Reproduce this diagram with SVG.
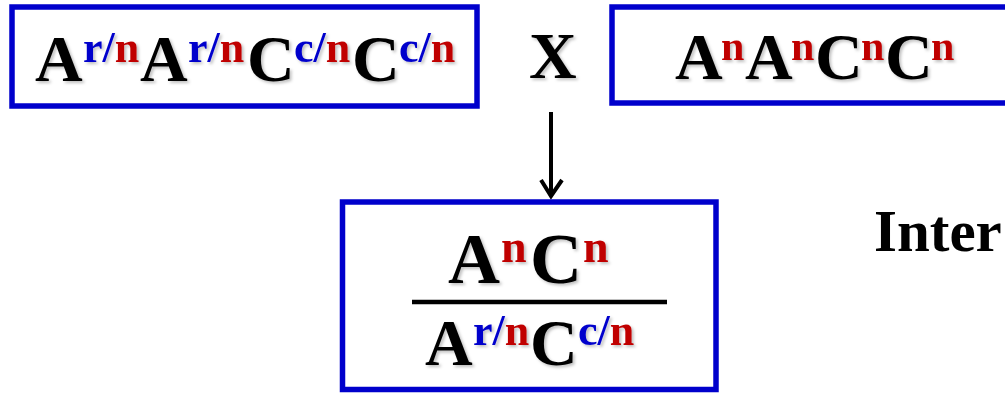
<svg xmlns="http://www.w3.org/2000/svg" width="1005" height="393" viewBox="0 0 1005 393">
  <style>
    .box { fill: #ffffff; stroke: #0000CC; stroke-width: 5.5; }
    .t { font-family: "Liberation Serif", "Times New Roman", serif; font-weight: bold; fill: #000000; }
    .b { fill: #0000CC; }
    .r { fill: #C00000; }
    .conn { stroke: #000000; stroke-width: 4; fill: none; stroke-linecap: butt; }
  </style>
  <defs>
    <filter id="sh" x="-10%" y="-10%" width="130%" height="130%">
      <feDropShadow dx="2" dy="2" stdDeviation="1.5" flood-color="#000" flood-opacity="0.25"/>
    </filter>
  </defs>
  <rect width="1005" height="393" fill="#ffffff"/>

  <g id="node-parent1">
    <rect class="box" x="12" y="7" width="465" height="99"/>
    <text class="t" filter="url(#sh)">
      <tspan x="35" y="81" font-size="66">A</tspan><tspan x="83" y="62" font-size="44" class="b">r/</tspan><tspan class="r" font-size="44">n</tspan><tspan x="140" y="81" font-size="66">A</tspan><tspan x="188" y="62" font-size="44" class="b">r/</tspan><tspan class="r" font-size="44">n</tspan><tspan x="247" y="81" font-size="66">C</tspan><tspan x="294" y="62" font-size="44" class="b">c/</tspan><tspan class="r" font-size="44">n</tspan><tspan x="352" y="81" font-size="66">C</tspan><tspan x="399" y="62" font-size="44" class="b">c/</tspan><tspan class="r" font-size="44">n</tspan>
    </text>
  </g>

  <g id="node-cross">
    <text class="t" x="529" y="78" font-size="66" filter="url(#sh)">X</text>
  </g>

  <g id="node-parent2">
    <rect class="box" x="612" y="7" width="420" height="96"/>
    <text class="t" filter="url(#sh)">
      <tspan x="675" y="79" font-size="66">A</tspan><tspan x="721" y="60" font-size="42" class="r">n</tspan><tspan x="745" y="79" font-size="66">A</tspan><tspan x="791" y="60" font-size="42" class="r">n</tspan><tspan x="815" y="79" font-size="66">C</tspan><tspan x="861" y="60" font-size="42" class="r">n</tspan><tspan x="885" y="79" font-size="66">C</tspan><tspan x="931" y="60" font-size="42" class="r">n</tspan>
    </text>
  </g>

  <g id="connectors">
    <line class="conn" x1="551" y1="112" x2="551" y2="196"/>
    <polyline class="conn" points="541,180 551,196 562,180"/>
  </g>

  <g id="node-result">
    <rect class="box" x="342.5" y="202" width="373.5" height="187.5"/>
    <text class="t" filter="url(#sh)">
      <tspan x="448" y="283" font-size="72">A</tspan><tspan x="501" y="262" font-size="46" class="r">n</tspan><tspan x="530" y="283" font-size="72">C</tspan><tspan x="583" y="262" font-size="46" class="r">n</tspan>
    </text>
    <line x1="412" y1="302" x2="667" y2="302" stroke="#000" stroke-width="4.5"/>
    <text class="t" filter="url(#sh)">
      <tspan x="425" y="365" font-size="66">A</tspan><tspan x="473" y="345" font-size="44" class="b">r/</tspan><tspan class="r" font-size="44">n</tspan><tspan x="530" y="365" font-size="66">C</tspan><tspan x="578" y="345" font-size="44" class="b">c/</tspan><tspan class="r" font-size="44">n</tspan>
    </text>
  </g>

  <g id="node-label">
    <text class="t" x="874" y="251" font-size="59">Inter</text>
  </g>
</svg>
